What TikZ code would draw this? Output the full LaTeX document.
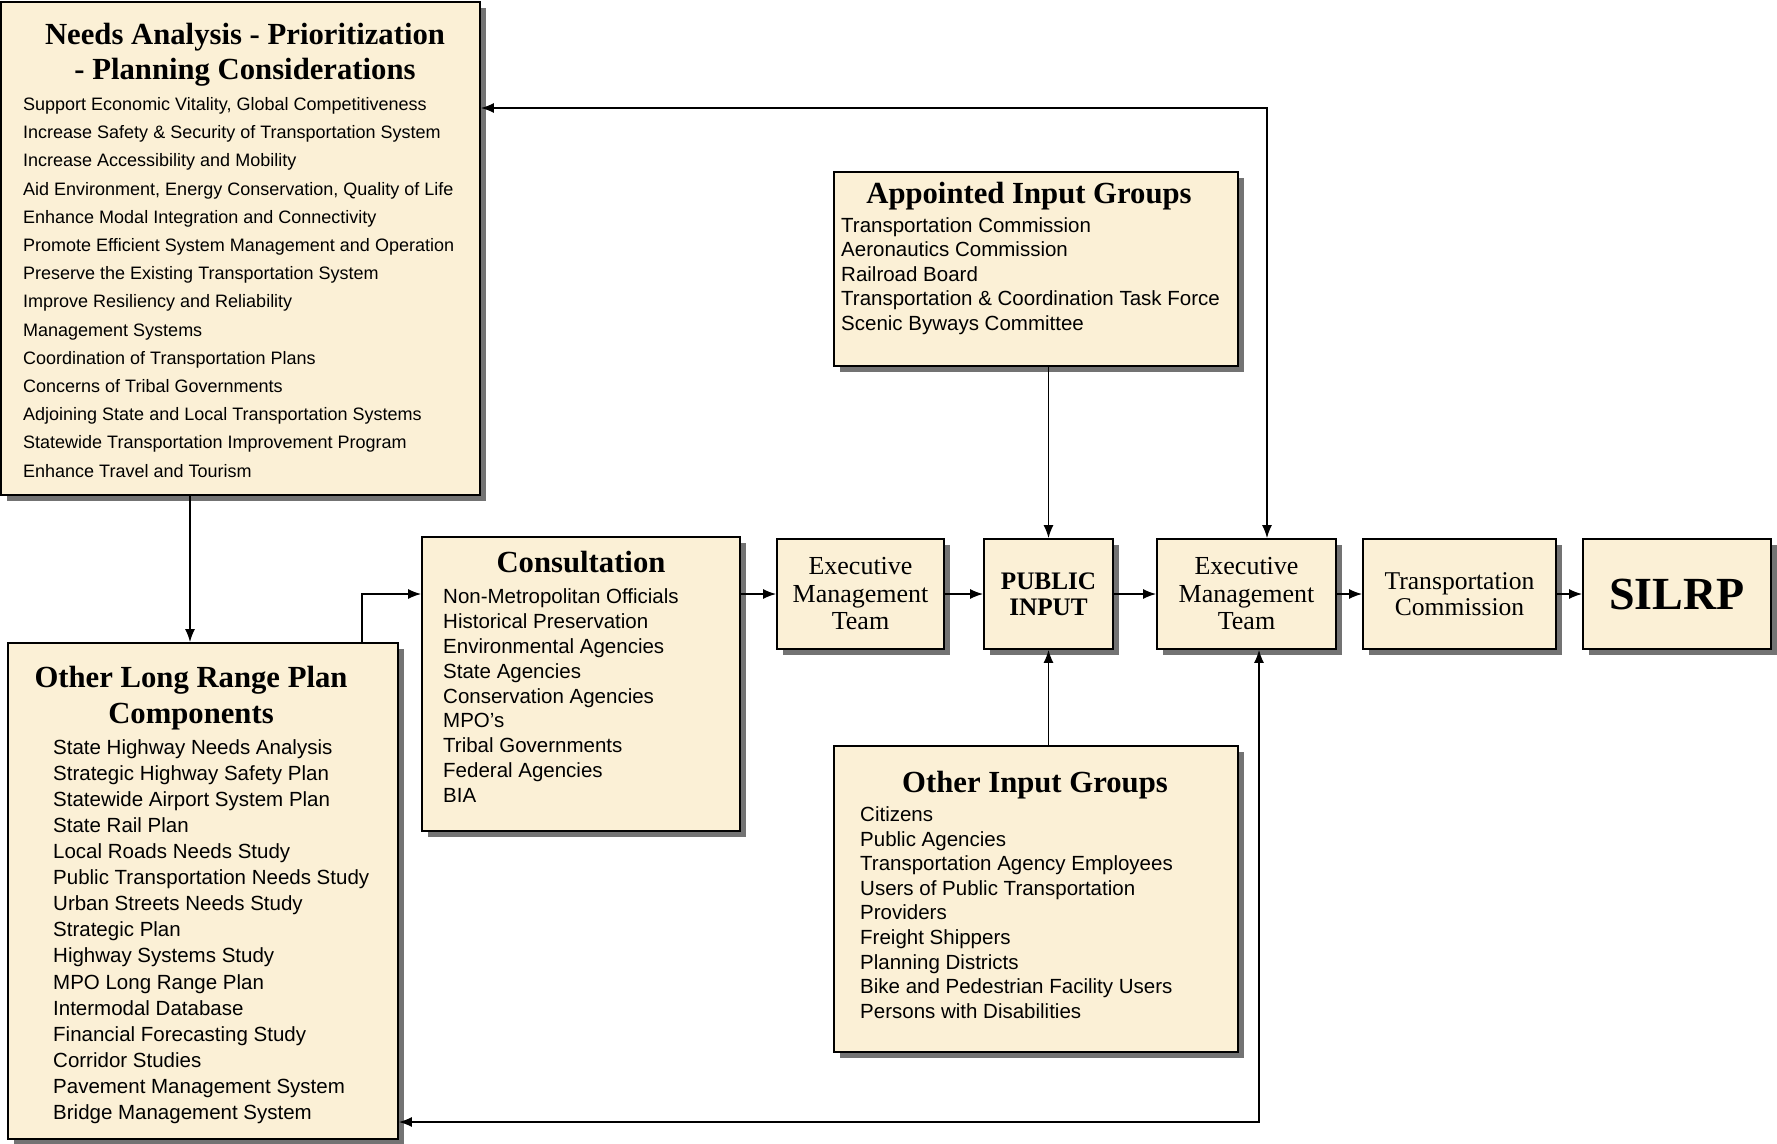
\documentclass[tikz,border=0pt]{standalone}
\usepackage{fontspec}
\setmainfont{Liberation Serif}
\setsansfont{Liberation Sans}
\usetikzlibrary{arrows.meta,shadows}
\definecolor{parch}{RGB}{251,240,214}
\tikzset{
    card/.style={draw, line width=1.8pt, fill=parch,
        drop shadow={shadow xshift=6pt, shadow yshift=-6pt, fill=black!55, opacity=1}},
    head/.style={font=\bfseries\fontsize{30.7}{35}\selectfont, inner sep=0pt, anchor=base},
    item/.style={font=\sffamily\fontsize{20.5}{24}\selectfont, inner sep=0pt, anchor=base west},
    smallitem/.style={item, font=\sffamily\fontsize{18}{22}\selectfont},
    step box/.style={card, align=center, font=\fontsize{26}{27.5}\selectfont},
    arr/.style={->, >={Latex[length=13pt,width=10pt]}, line width=1.4pt},
    twoway/.style={arr, <->}
}
\begin{document}
\begin{tikzpicture}[x=1pt, y=-1pt]
    \useasboundingbox (0,0) rectangle (1777,1143);

    % boxes
    \node[card, minimum width=479pt, minimum height=493pt] (needs) at (240.5,248.5) {};
    \node[card, minimum width=404pt, minimum height=194pt] (appointed) at (1036,269) {};
    \node[card, minimum width=318pt, minimum height=294pt] (consult) at (581,684) {};
    \node[card, minimum width=390pt, minimum height=496pt] (lrp) at (203,891) {};
    \node[card, minimum width=404pt, minimum height=306pt] (others) at (1036,899) {};

    \node[step box, minimum width=167pt, minimum height=110pt] (exec1) at (860.5,594) {Executive\\Management\\Team};
    \node[step box, minimum width=129pt, minimum height=110pt, font=\bfseries\fontsize{25.2}{26}\selectfont] (public) at (1048.5,594) {PUBLIC\\INPUT};
    \node[step box, minimum width=179pt, minimum height=110pt] (exec2) at (1246.5,594) {Executive\\Management\\Team};
    \node[step box, minimum width=193pt, minimum height=110pt, font=\fontsize{25.6}{25.5}\selectfont] (commission) at (1459.5,594) {Transportation\\Commission};
    \node[step box, minimum width=188pt, minimum height=110pt, font=\bfseries\fontsize{46}{48}\selectfont] (silrp) at (1677,594) {SILRP};

    % titles
    \node[head] (needs-t1) at (245,44.2) {Needs Analysis - Prioritization};
    \node[head] (needs-t2) at (245,79.2) {- Planning Considerations};
    \node[head] (appointed-t) at (1029,203) {Appointed Input Groups};
    \node[head] (consult-t) at (581,572) {Consultation};
    \node[head] (lrp-t1) at (191,687) {Other Long Range Plan};
    \node[head] (lrp-t2) at (191,723) {Components};
    \node[head] (others-t) at (1035,792) {Other Input Groups};

    % lists
    \foreach \txt [count=\i from 0] in {{Support Economic Vitality, Global Competitiveness},
        Increase Safety \& Security of Transportation System,
        Increase Accessibility and Mobility,
        {Aid Environment, Energy Conservation, Quality of Life},
        Enhance Modal Integration and Connectivity,
        Promote Efficient System Management and Operation,
        Preserve the Existing Transportation System,
        Improve Resiliency and Reliability,
        Management Systems,
        Coordination of Transportation Plans,
        Concerns of Tribal Governments,
        Adjoining State and Local Transportation Systems,
        Statewide Transportation Improvement Program,
        Enhance Travel and Tourism} {
        \node[smallitem] (need\i) at (23,{110.5+28.2*\i}) {\txt};
    }
    \foreach \txt [count=\i from 0] in {Transportation Commission,
        Aeronautics Commission,
        Railroad Board,
        Transportation \& Coordination Task Force,
        Scenic Byways Committee} {
        \node[item] (appointed\i) at (841,{232+24.6*\i}) {\txt};
    }
    \foreach \txt [count=\i from 0] in {Non-Metropolitan Officials,
        Historical Preservation,
        Environmental Agencies,
        State Agencies,
        Conservation Agencies,
        MPO’s,
        Tribal Governments,
        Federal Agencies,
        BIA} {
        \node[item] (consult\i) at (443,{603.4+24.9*\i}) {\txt};
    }
    \foreach \txt [count=\i from 0] in {State Highway Needs Analysis,
        Strategic Highway Safety Plan,
        Statewide Airport System Plan,
        State Rail Plan,
        Local Roads Needs Study,
        Public Transportation Needs Study,
        Urban Streets Needs Study,
        Strategic Plan,
        Highway Systems Study,
        MPO Long Range Plan,
        Intermodal Database,
        Financial Forecasting Study,
        Corridor Studies,
        Pavement Management System,
        Bridge Management System} {
        \node[item] (lrp\i) at (53,{754.4+26.07*\i}) {\txt};
    }
    \foreach \txt [count=\i from 0] in {Citizens,
        Public Agencies,
        Transportation Agency Employees,
        Users of Public Transportation,
        Providers,
        Freight Shippers,
        Planning Districts,
        Bike and Pedestrian Facility Users,
        Persons with Disabilities} {
        \node[item] (others\i) at (860,{821.4+24.6*\i}) {\txt};
    }

    % connectors
    \draw[arr] ([xshift=-50.5pt]needs.south) -- ([xshift=-13pt]lrp.north);
    \draw[arr] ([xshift=159pt]lrp.north) |- ([yshift=90pt]consult.west);
    \draw[arr] (consult.east |- exec1.west) -- (exec1.west);
    \draw[arr] (exec1) -- (public);
    \draw[arr] (public) -- (exec2);
    \draw[arr] (exec2) -- (commission);
    \draw[arr] (commission) -- (silrp);
    \draw[arr] (appointed.south -| public.north) -- (public.north);
    \draw[arr] (others.north -| public.south) -- (public.south);
    \draw[twoway] ([yshift=140.5pt]needs.east) -| ([xshift=20.5pt]exec2.north);
    \draw[twoway] ([yshift=-231pt]lrp.east) -| ([xshift=12.5pt]exec2.south);
\end{tikzpicture}
\end{document}
